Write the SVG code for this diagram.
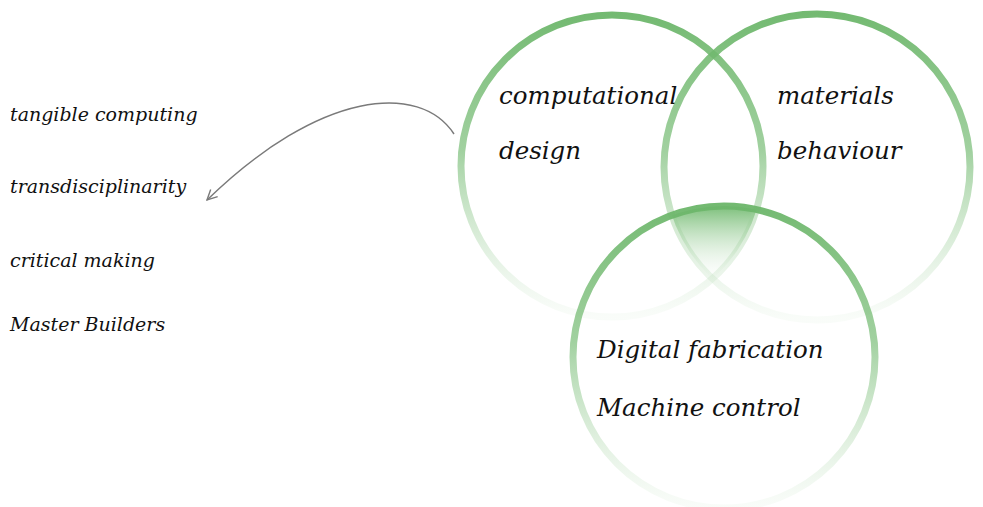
<svg xmlns="http://www.w3.org/2000/svg" width="983" height="507" viewBox="0 0 983 507">
<style>
.ring{fill:none;stroke-width:7}
.lbl{font-family:"DejaVu Serif","Liberation Serif",serif;font-style:italic;fill:#111}
.big{font-size:24.5px}
.small{font-size:19px}
</style>
<defs>
<linearGradient id="rg" x1="0" y1="0" x2="0" y2="1">
<stop offset="0" stop-color="#6cb66a" stop-opacity="0.95"/>
<stop offset="0.45" stop-color="#7dbf7b" stop-opacity="0.72"/>
<stop offset="0.75" stop-color="#a8d4a6" stop-opacity="0.4"/>
<stop offset="1" stop-color="#dff0de" stop-opacity="0.18"/>
</linearGradient>
<linearGradient id="fg" gradientUnits="userSpaceOnUse" x1="0" y1="205" x2="0" y2="288">
<stop offset="0" stop-color="#78bd76"/>
<stop offset="1" stop-color="#ffffff" stop-opacity="0"/>
</linearGradient>
<clipPath id="c1"><circle cx="612" cy="166" r="151"/></clipPath>
<clipPath id="c2"><circle cx="817" cy="167" r="153"/></clipPath>
<marker id="ah" viewBox="0 0 12 12" refX="11" refY="6" markerWidth="12" markerHeight="12" markerUnits="userSpaceOnUse" orient="auto">
<path d="M1,1 L11,6 L1,11" fill="none" stroke="#7a7a7a" stroke-width="1.4"/>
</marker>
</defs>
<rect width="983" height="507" fill="#ffffff"/>
<g id="intersection" clip-path="url(#c1)"><g clip-path="url(#c2)"><circle cx="724" cy="357" r="151" fill="url(#fg)"/></g></g>
<g id="node-computational-design">
<circle class="ring" cx="612" cy="166" r="151" stroke="url(#rg)"/>
<text class="lbl big" x="499" y="104">computational</text>
<text class="lbl big" x="499" y="159">design</text>
</g>
<g id="node-materials-behaviour">
<circle class="ring" cx="817" cy="167" r="153" stroke="url(#rg)"/>
<text class="lbl big" x="777" y="104">materials</text>
<text class="lbl big" x="777" y="159">behaviour</text>
</g>
<g id="node-digital-fabrication">
<circle class="ring" cx="724" cy="357" r="151" stroke="url(#rg)"/>
<text class="lbl big" x="597" y="358">Digital fabrication</text>
<text class="lbl big" x="597" y="416">Machine control</text>
</g>
<g id="node-list">
<text class="lbl small" x="10" y="121">tangible computing</text>
<text class="lbl small" x="10" y="193">transdisciplinarity</text>
<text class="lbl small" x="10" y="267">critical making</text>
<text class="lbl small" x="10" y="331">Master Builders</text>
</g>
<g id="connectors">
<path d="M454,134 C420,82 320,90 207,200" fill="none" stroke="#7a7a7a" stroke-width="1.5" marker-end="url(#ah)"/>
</g>
</svg>
